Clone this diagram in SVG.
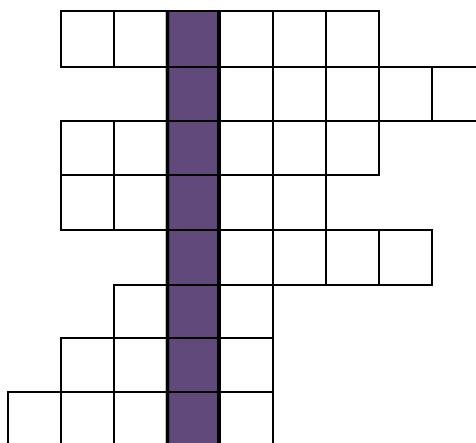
<svg xmlns="http://www.w3.org/2000/svg" width="476" height="443" viewBox="0 0 476 443">
<style>
.c{fill:#fff;stroke:#000;stroke-width:2}
.p{fill:#614a7b;stroke:#000;stroke-width:2}
.b{stroke:#000;stroke-width:3.5;fill:none}
</style>
<rect width="476" height="443" fill="#fff"/>
<g id="row0">
<rect class="c" x="61" y="11" width="53" height="56"/>
<rect class="c" x="114" y="11" width="53" height="56"/>
<rect class="p" x="167" y="11" width="53" height="56"/>
<rect class="c" x="220" y="11" width="53" height="56"/>
<rect class="c" x="273" y="11" width="53" height="56"/>
<rect class="c" x="326" y="11" width="53" height="56"/>
</g>
<g id="row1">
<rect class="p" x="167" y="67" width="53" height="54"/>
<rect class="c" x="220" y="67" width="53" height="54"/>
<rect class="c" x="273" y="67" width="53" height="54"/>
<rect class="c" x="326" y="67" width="53" height="54"/>
<rect class="c" x="379" y="67" width="53" height="54"/>
<rect class="c" x="432" y="67" width="53" height="54"/>
</g>
<g id="row2">
<rect class="c" x="61" y="121" width="53" height="54"/>
<rect class="c" x="114" y="121" width="53" height="54"/>
<rect class="p" x="167" y="121" width="53" height="54"/>
<rect class="c" x="220" y="121" width="53" height="54"/>
<rect class="c" x="273" y="121" width="53" height="54"/>
<rect class="c" x="326" y="121" width="53" height="54"/>
</g>
<g id="row3">
<rect class="c" x="61" y="175" width="53" height="55"/>
<rect class="c" x="114" y="175" width="53" height="55"/>
<rect class="p" x="167" y="175" width="53" height="55"/>
<rect class="c" x="220" y="175" width="53" height="55"/>
<rect class="c" x="273" y="175" width="53" height="55"/>
</g>
<g id="row4">
<rect class="p" x="167" y="230" width="53" height="55"/>
<rect class="c" x="220" y="230" width="53" height="55"/>
<rect class="c" x="273" y="230" width="53" height="55"/>
<rect class="c" x="326" y="230" width="53" height="55"/>
<rect class="c" x="379" y="230" width="53" height="55"/>
</g>
<g id="row5">
<rect class="c" x="114" y="285" width="53" height="53"/>
<rect class="p" x="167" y="285" width="53" height="53"/>
<rect class="c" x="220" y="285" width="53" height="53"/>
</g>
<g id="row6">
<rect class="c" x="61" y="338" width="53" height="54"/>
<rect class="c" x="114" y="338" width="53" height="54"/>
<rect class="p" x="167" y="338" width="53" height="54"/>
<rect class="c" x="220" y="338" width="53" height="54"/>
</g>
<g id="row7">
<rect class="c" x="8" y="392" width="53" height="55"/>
<rect class="c" x="61" y="392" width="53" height="55"/>
<rect class="c" x="114" y="392" width="53" height="55"/>
<rect class="p" x="167" y="392" width="53" height="55"/>
<rect class="c" x="220" y="392" width="53" height="55"/>
</g>
<g id="purple-border">
<line class="b" x1="167.5" y1="10" x2="167.5" y2="443"/>
<line class="b" x1="218.7" y1="10" x2="218.7" y2="443"/>
</g>
</svg>
